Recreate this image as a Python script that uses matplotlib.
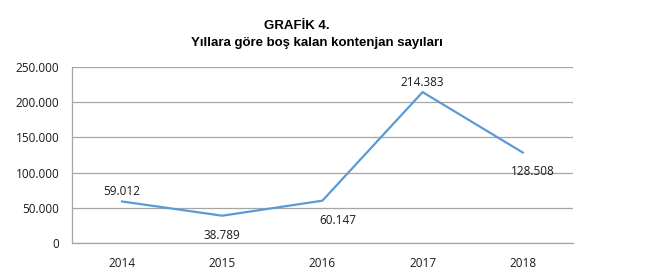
import numpy as np
import matplotlib.pyplot as plt
from matplotlib.ticker import FuncFormatter

years = ['2014', '2015', '2016', '2017', '2018']
values = [59012, 38789, 60147, 214383, 128508]
# label placement (offset in points) for each point
label_offsets = [(0, 7), (0, -14), (11, -14), (0, 7), (7, -14)]

fig = plt.figure(figsize=(6.6, 2.77), dpi=100)
ax = fig.add_axes([0.109, 0.1227, 0.759, 0.6353])

x = np.arange(len(years))
ax.plot(x, values, color='#5B9BD5', lw=1.6)

for xi, v, (dx, dy) in zip(x, values, label_offsets):
    ax.annotate(format(v, ',').replace(',', '.'), (xi, v), xytext=(dx, dy),
                textcoords='offset points', ha='center', va='center',
                fontsize=8.5, family='Open Sans', color='#1a1a1a')

ax.set_xlim(-0.5, len(years) - 0.5)
ax.set_ylim(0, 250000)
ax.set_yticks(np.arange(0, 250001, 50000))
ax.yaxis.set_major_formatter(FuncFormatter(lambda v, p: format(int(v), ',').replace(',', '.')))
ax.set_xticks(x)
ax.set_xticklabels(years)
ax.tick_params(length=0, labelsize=8.5, colors='#1a1a1a')
ax.tick_params(axis='y', pad=9)
ax.tick_params(axis='x', pad=10)
for lab in ax.get_xticklabels() + ax.get_yticklabels():
    lab.set_family('Open Sans')

ax.grid(axis='y', color='#A6A6A6', lw=0.9)
ax.set_axisbelow(True)
for s in ['top', 'right']:
    ax.spines[s].set_visible(False)
for s in ['left', 'bottom']:
    ax.spines[s].set_color('#A6A6A6')
    ax.spines[s].set_linewidth(0.9)

fig.text(0.45, 0.905, 'GRAFİK 4.', ha='center', va='center', fontsize=9.5,
         fontweight='bold', family=['Liberation Sans Narrow', 'Liberation Sans'])
fig.text(0.48, 0.845, 'Yıllara göre boş kalan kontenjan sayıları', ha='center', va='center',
         fontsize=9.5, fontweight='bold', family=['Liberation Sans Narrow', 'Liberation Sans'])

fig.savefig('out.png', dpi=100)
